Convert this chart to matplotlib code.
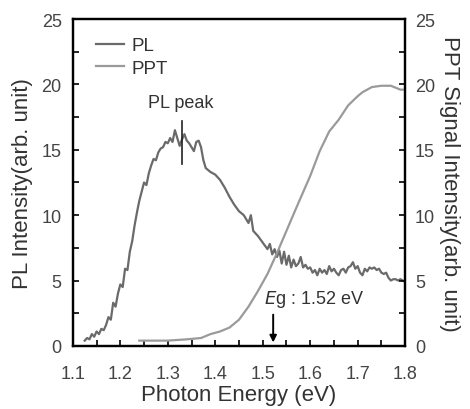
import numpy as np
import matplotlib.pyplot as plt

plt.rcParams['font.family'] = ['Liberation Sans', 'DejaVu Sans']

# PL spectrum (left axis)
pl_e = [1.125, 1.13, 1.135, 1.14, 1.145, 1.15, 1.155, 1.16, 1.165, 1.17, 1.175, 1.18, 1.185,
        1.19, 1.195, 1.20, 1.205, 1.21, 1.215, 1.22, 1.225, 1.23, 1.235, 1.24, 1.245, 1.25,
        1.255, 1.26, 1.265, 1.27, 1.275, 1.28, 1.285, 1.29, 1.295, 1.30, 1.305, 1.31, 1.315,
        1.32, 1.325, 1.33, 1.335, 1.34, 1.345, 1.35, 1.355, 1.36, 1.365, 1.37, 1.375, 1.38,
        1.39, 1.40, 1.41, 1.42, 1.43, 1.44, 1.45, 1.46, 1.47, 1.475, 1.48, 1.49, 1.50, 1.51,
        1.515, 1.52, 1.525, 1.53, 1.535, 1.54, 1.545, 1.55, 1.555, 1.56, 1.565, 1.57, 1.575,
        1.58, 1.585, 1.59, 1.595, 1.60, 1.605, 1.61, 1.615, 1.62, 1.625, 1.63, 1.635, 1.64,
        1.645, 1.65, 1.655, 1.66, 1.665, 1.67, 1.675, 1.68, 1.685, 1.69, 1.695, 1.70, 1.705,
        1.71, 1.715, 1.72, 1.725, 1.73, 1.735, 1.74, 1.745, 1.75, 1.755, 1.76, 1.765, 1.77,
        1.775, 1.78, 1.785, 1.79, 1.795, 1.80]
pl_i = [0.4, 0.6, 0.5, 0.9, 0.7, 1.1, 0.9, 1.3, 1.2, 1.6, 2.2, 2.0, 3.3,
        3.0, 4.0, 4.7, 4.5, 5.9, 5.8, 7.2, 8.0, 9.2, 10.2, 11.1, 11.8, 12.5,
        12.3, 13.2, 13.8, 14.3, 14.2, 14.8, 15.1, 15.2, 15.6, 15.5, 15.9, 15.6, 16.5,
        15.9, 15.3, 15.8, 16.2, 15.7, 15.5, 15.2, 14.9, 15.6, 15.7, 15.2, 14.2, 13.6,
        13.3, 13.1, 12.7, 12.1, 11.4, 10.8, 10.3, 10.0, 9.4, 10.0, 8.8, 8.4, 7.9, 7.4,
        7.8, 7.0, 7.4, 6.8, 7.3, 6.3, 7.2, 6.2, 6.9, 6.0, 6.6, 6.1, 6.3,
        6.8, 6.0, 6.2, 5.9, 6.0, 5.6, 5.8, 5.4, 5.9, 5.6, 5.8, 5.5, 6.1,
        5.7, 5.9, 5.6, 5.4, 5.8, 5.9, 5.6, 6.0, 6.1, 6.4, 5.9, 6.1, 5.6,
        5.4, 5.9, 5.7, 6.0, 5.9, 6.0, 5.8, 5.9, 5.6, 5.5, 5.6, 5.2, 5.0,
        5.1, 5.1, 5.0, 5.1, 5.0, 4.9]

# PPT signal (right axis)
ppt_e = [1.24, 1.30, 1.34, 1.37, 1.39, 1.41, 1.43, 1.45, 1.47, 1.49, 1.51, 1.53, 1.55,
         1.57, 1.60, 1.62, 1.64, 1.66, 1.68, 1.70, 1.71, 1.73, 1.75, 1.77, 1.79, 1.80]
ppt_i = [0.4, 0.4, 0.5, 0.6, 0.9, 1.1, 1.4, 2.0, 3.0, 4.2, 5.5, 7.1, 8.8,
         10.5, 13.0, 14.9, 16.4, 17.3, 18.4, 19.1, 19.4, 19.8, 19.9, 19.9, 19.6, 19.6]

fig = plt.figure(figsize=(4.7, 4.1), dpi=100)
ax = fig.add_axes([0.155, 0.154, 0.707, 0.797])
ax2 = ax.twinx()

l1, = ax.plot(pl_e, pl_i, color='#6a6a6a', lw=1.6, label='PL')
l2, = ax2.plot(ppt_e, ppt_i, color='#9a9a9a', lw=1.6, label='PPT')

ax.set_xlim(1.1, 1.8)
ax.set_ylim(0, 25)
ax2.set_ylim(0, 25)
ax.set_xticks(np.arange(1.1, 1.81, 0.1))
ax.set_xticks(np.arange(1.1, 1.81, 0.05), minor=True)
ax.set_yticks(np.arange(0, 26, 5))
ax.set_yticks(np.arange(0, 26, 2.5), minor=True)
ax2.set_yticks(np.arange(0, 26, 5))
ax2.set_yticks(np.arange(0, 26, 2.5), minor=True)
for a in (ax, ax2):
    a.tick_params(which='both', direction='in', length=4, width=1.2,
                  labelsize=13, labelcolor='#444444', top=False)
    for s in a.spines.values():
        s.set_linewidth(1.6)
ax.tick_params(axis='y', which='both', right=False, pad=8)
ax2.tick_params(axis='y', pad=7)
ax.tick_params(axis='x', pad=14)
ax.set_xticklabels(['1.1', '1.2', '1.3', '1.4', '1.5', '1.6', '1.7', '1.8'])

ax.set_xlabel('Photon Energy (eV)', fontsize=16, color='#333333', labelpad=1)
ax.set_ylabel('PL Intensity(arb. unit)', fontsize=16, color='#333333', labelpad=6)
ax2.set_ylabel('PPT Signal Intensity(arb. unit)', fontsize=16, color='#333333',
               rotation=270, labelpad=18)

ax.legend(handles=[l1, l2], loc='upper left', bbox_to_anchor=(0.03, 0.985), frameon=False,
          fontsize=13.5, handlelength=1.5, handletextpad=0.4, borderaxespad=0.3,
          labelspacing=0.3, labelcolor='#333333')

# PL peak marker
ax.plot([1.329, 1.329], [13.9, 17.2], color='#222222', lw=1.2)
ax.text(1.328, 18.6, 'PL peak', ha='center', va='center', fontsize=13, color='#333333')

# band gap arrow
ax.annotate('', xy=(1.522, 0.05), xytext=(1.522, 2.6),
            arrowprops=dict(arrowstyle='-|>', color='black', lw=1.4, mutation_scale=10))
ax.text(1.502, 3.6, r'$\it{E}$g : 1.52 eV', ha='left', va='center', fontsize=13, color='#333333')

fig.savefig('out.png', dpi=100)
